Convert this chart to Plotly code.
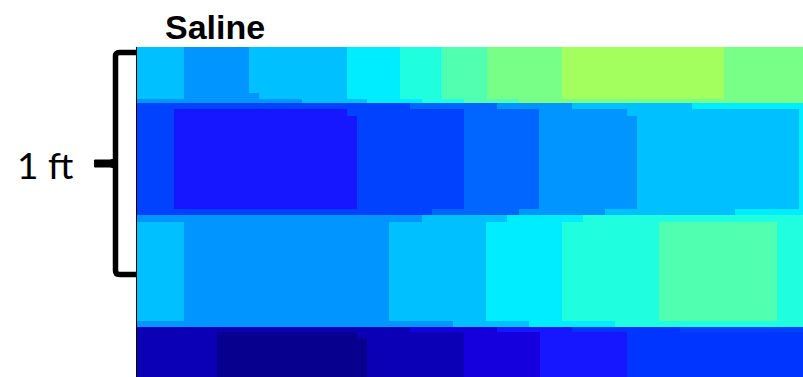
import numpy as np
import plotly.graph_objects as go

# Colour classes of the section, lowest to highest
class_colors = ["#07008f", "#0b00b6", "#1500dd", "#1717ff", "#0034ff", "#0042ff",
                "#0066ff", "#0095ff", "#00c0ff", "#00ecff", "#1fffdf", "#50ffb0",
                "#78ff88", "#a2ff5e"]

# Depth edges of the horizontal bands, top to bottom
band_edges = [0, 46, 52, 56, 62, 69, 162, 168, 175, 274, 280, 285, 291, 330]

# Breakpoints along the section and the class of each run, per band
a1_breaks = [0, 47, 112, 210, 263, 305, 350, 425, 587, 666]
a1_class = [8, 7, 8, 9, 10, 11, 12, 13, 12]
a2_breaks = [0, 47, 122, 210, 263, 305, 350, 425, 587, 666]
a2_class = [8, 7, 8, 9, 10, 11, 12, 13, 12]
a3_breaks = [0, 165, 230, 285, 327, 382, 666]
a3_class = [7, 8, 9, 10, 11, 12]
b1_breaks = [0, 273, 360, 435, 555, 666]
b1_class = [5, 6, 7, 8, 9]
b2_breaks = [0, 37, 210, 327, 402, 490, 662, 666]
b2_class = [5, 3, 5, 6, 7, 8, 9]
b3_breaks = [0, 37, 220, 327, 402, 500, 662, 666]
b3_class = [5, 3, 5, 6, 7, 8, 9]
b4_breaks = [0, 295, 382, 468, 598, 666]
b4_class = [5, 6, 7, 8, 9]
c1_breaks = [0, 285, 370, 446, 666]
c1_class = [7, 8, 9, 10]
c2_breaks = [0, 47, 252, 349, 425, 522, 640, 666]
c2_class = [8, 7, 8, 9, 10, 11, 10]
c3_breaks = [0, 316, 392, 478, 666]
c3_class = [7, 8, 9, 10]
d1_breaks = [0, 273, 360, 435, 543, 666]
d1_class = [1, 2, 3, 4, 5]
d2_breaks = [0, 80, 220, 327, 403, 490, 666]
d2_class = [1, 0, 1, 2, 3, 4]
d3_breaks = [0, 80, 230, 327, 403, 490, 666]
d3_class = [1, 0, 1, 2, 3, 4]

title_text = "Saline"
scale_text = "1 ft"

band_breaks = [a1_breaks, a2_breaks, a3_breaks, b1_breaks, b2_breaks, b3_breaks,
               b4_breaks, c1_breaks, c2_breaks, c3_breaks, d1_breaks, d2_breaks,
               d3_breaks]
band_classes = [a1_class, a2_class, a3_class, b1_class, b2_class, b3_class,
                b4_class, c1_class, c2_class, c3_class, d1_class, d2_class,
                d3_class]

# Common grid: union of every breakpoint, each cell takes its band's run class
x_edges = sorted(set().union(*band_breaks))
mids = (np.array(x_edges[:-1]) + np.array(x_edges[1:])) / 2
z = []
for brk, cls in zip(band_breaks, band_classes):
    idx = np.searchsorted(np.array(brk), mids, side="right") - 1
    z.append([cls[i] for i in idx])

n = len(class_colors) - 1
colorscale = [[i / n, c] for i, c in enumerate(class_colors)]

fig = go.Figure(go.Heatmap(
    x=x_edges, y=band_edges, z=z,
    colorscale=colorscale, zmin=0, zmax=n,
    showscale=False, hoverinfo="skip",
))

W, H = 803, 377
L, T = 137, 47
PW, PH = W - L, H - T


def px(x):
    return (x - L) / PW


def py(y):
    return 1 - (y - T) / PH


# Curly brace marking one foot of depth
top_y, bot_y, mid_y = 52.5, 274.5, 163.5
vx = 115.5
r = 4
brace = (f"M {px(137)} {py(top_y)} L {px(vx + r)} {py(top_y)} "
         f"Q {px(vx)} {py(top_y)} {px(vx)} {py(top_y + r)} "
         f"L {px(vx)} {py(bot_y - r)} "
         f"Q {px(vx)} {py(bot_y)} {px(vx + r)} {py(bot_y)} "
         f"L {px(137)} {py(bot_y)}")
tip = (f"M {px(vx)} {py(mid_y - 6)} Q {px(vx - 1)} {py(mid_y - 3.5)} {px(vx - 6)} {py(mid_y - 3.5)} "
       f"L {px(94.5)} {py(mid_y - 3.5)} L {px(94.5)} {py(mid_y + 3.5)} "
       f"L {px(vx - 6)} {py(mid_y + 3.5)} Q {px(vx - 1)} {py(mid_y + 3.5)} {px(vx)} {py(mid_y + 6)} Z")

fig.update_layout(
    width=W, height=H,
    margin=dict(l=L, r=0, t=T, b=0, pad=0),
    paper_bgcolor="white", plot_bgcolor="white",
    xaxis=dict(range=[0, 666], visible=False, fixedrange=True),
    yaxis=dict(range=[330, 0], showline=True, linecolor="black", linewidth=1,
               showticklabels=False, ticks="", showgrid=False, zeroline=False,
               fixedrange=True),
    shapes=[
        dict(type="path", xref="paper", yref="paper", path=brace,
             line=dict(color="black", width=5.5)),
        dict(type="path", xref="paper", yref="paper", path=tip,
             fillcolor="black", line=dict(color="black", width=1)),
    ],
    annotations=[
        dict(text=f"<b>{title_text}</b>", xref="paper", yref="paper",
             x=px(163), y=1, xanchor="left", yanchor="bottom", showarrow=False,
             yshift=-1,
             font=dict(family="Liberation Sans, Arial, sans-serif", size=34,
                       color="black")),
        dict(text=scale_text, xref="paper", yref="paper",
             x=px(45), y=py(164.5), xanchor="center", yanchor="middle",
             showarrow=False,
             font=dict(family="Lato, sans-serif", size=37, color="black")),
    ],
)

fig.write_html("out.html")
